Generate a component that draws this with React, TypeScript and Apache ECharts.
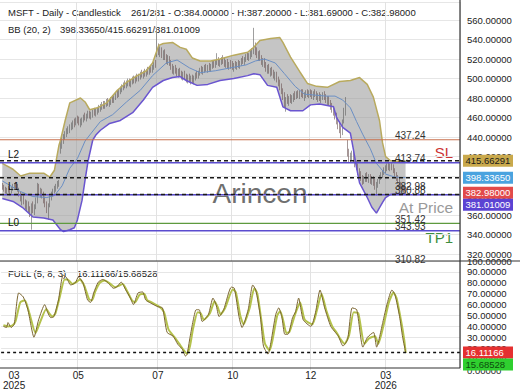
import React, { useEffect, useRef } from 'react';
import * as echarts from 'echarts';

const FONT = '"Liberation Sans", Arial, sans-serif';
const SLOTS = 300;
const FIRST_BAR = 1;

// x-axis ticks (slot index, month, year)
const tickIndex = [8, 50, 102, 151, 202, 251];
const tickText = ['03', '05', '07', '10', '12', '03'];
const tickYear = ['2025', '', '', '', '', '2026'];
const gridLineIndex = [50, 102, 151, 202, 251];

// daily candles [open, high, low, close], first one sits in slot FIRST_BAR
const ohlc: number[][] = [
  [390,393,386,388],[388,391,384,387],[387,389,382,384],[384,388,381,386],[386,390,383,385],[385,388,380,383],[383,389,382,388],[388,392,385,390],[390,393,386,391],[391,394,387,389],
  [389,392,384,386],[386,388,379,381],[381,384,374,376],[376,380,370,378],[378,381,371,373],[373,376,366,368],[368,375,364,372],[372,374,362,365],[365,369,358,361],[358,372,345,369],
  [369,374,362,366],[366,371,360,370],[370,378,366,376],[374,393,372,390],[390,392,381,383],[383,388,378,385],[385,387,377,380],[380,384,372,375],[375,379,368,371],[371,374,362,366],
  [366,372,355,370],[370,380,368,378],[378,384,375,382],[382,387,379,385],[385,390,382,388],[388,392,384,391],[391,395,387,393],[393,396,389,394],[424,437,423,432],[432,440,428,436],
  [436,443,433,441],[441,446,437,444],[444,449,440,447],[447,451,443,449],[449,453,444,451],[451,455,447,452],[452,457,448,455],[455,459,450,454],[454,460,452,458],[458,462,454,457],
  [457,461,452,455],[455,459,450,456],[456,460,452,458],[458,463,455,461],[461,465,457,460],[460,464,456,462],[462,467,459,464],[464,467,459,461],[461,466,458,463],[463,468,460,466],
  [466,470,462,464],[464,469,461,467],[467,471,463,468],[468,473,465,470],[470,474,466,471],[471,476,468,473],[473,477,469,472],[472,477,469,475],[475,479,471,476],[476,480,472,474],
  [474,479,471,477],[477,481,473,479],[479,483,475,478],[478,483,475,481],[481,486,478,484],[484,488,480,483],[483,489,481,487],[487,492,484,490],[490,494,486,491],[491,496,488,494],
  [494,498,490,493],[493,498,490,496],[496,500,492,497],[497,500,492,494],[494,499,491,497],[497,502,494,499],[499,503,495,498],[498,503,495,501],[501,505,497,500],[500,505,497,503],
  [503,507,499,505],[505,509,501,504],[504,508,500,506],[506,510,502,505],[505,510,502,508],[508,512,504,507],[507,512,504,510],[510,514,506,509],[509,514,506,512],[512,517,509,515],
  [515,519,511,513],[528,552,522,530],[530,536,524,527],[527,533,522,529],[529,532,521,524],[524,529,519,526],[526,530,519,521],[521,525,515,519],[519,524,514,520],[520,523,513,515],
  [515,519,509,511],[511,515,505,508],[508,513,504,510],[510,514,505,507],[507,511,502,505],[505,510,501,508],[508,511,502,504],[504,508,499,502],[502,507,498,505],[505,508,499,501],
  [501,505,496,499],[499,504,495,502],[502,505,496,498],[498,503,494,500],[500,504,495,497],[497,503,494,501],[501,506,498,504],[504,508,500,503],[503,508,500,506],[506,511,503,509],
  [509,513,505,507],[507,512,504,510],[510,514,506,511],[511,515,507,509],[509,514,506,512],[512,516,508,510],[510,515,507,513],[513,518,510,515],[515,519,511,514],[514,519,511,517],
  [517,526,514,519],[519,522,513,515],[515,520,512,518],[518,522,514,520],[520,524,515,517],[517,521,512,514],[514,519,511,516],[516,520,510,512],[512,517,509,515],[515,519,510,513],
  [513,518,509,511],[511,516,507,514],[514,518,510,512],[512,517,509,515],[515,519,511,513],[513,518,510,516],[516,521,513,519],[519,523,515,517],[517,522,514,520],[520,525,517,523],
  [523,527,519,521],[521,526,518,524],[524,529,520,526],[526,531,522,528],[528,552,525,533],[533,537,524,527],[527,532,521,523],[523,528,518,525],[525,529,518,520],[520,524,514,516],
  [516,521,512,518],[518,521,511,513],[513,517,507,509],[509,514,505,511],[511,515,505,507],[507,511,502,509],[509,512,503,505],[505,509,500,502],[502,507,498,504],[504,507,496,498],
  [498,502,492,495],[495,499,488,491],[491,495,484,487],[487,490,478,482],[482,486,470,476],[476,481,466,479],[479,484,474,477],[477,482,472,480],[480,484,475,478],[478,483,474,481],
  [481,485,476,483],[483,487,478,482],[482,487,479,485],[485,488,480,483],[483,488,479,486],[486,489,481,484],[484,489,480,482],[482,486,477,484],[484,488,480,486],[486,489,481,483],
  [483,488,480,485],[485,489,481,484],[484,488,479,482],[482,487,478,485],[485,489,481,483],[483,487,478,480],[480,485,476,482],[482,486,477,479],[479,484,475,482],[482,486,478,484],
  [484,487,478,480],[480,484,475,477],[477,482,473,479],[479,482,472,474],[474,478,468,471],[471,475,465,468],[468,472,462,465],[465,469,458,461],[461,465,453,456],[456,460,448,452],
  [452,456,444,447],[447,452,439,445],[445,458,442,456],[456,470,454,467],[467,481,462,476],[432,437,420,424],[424,428,414,418],[418,424,414,421],[421,426,416,423],[423,425,414,417],
  [417,420,409,412],[412,416,406,410],[410,413,401,404],[404,408,398,402],[402,405,395,398],[398,401,391,394],[394,400,392,398],[398,403,394,401],[401,404,394,397],[397,402,393,399],
  [399,402,392,395],[395,400,391,397],[397,400,390,393],[393,397,386,389],[389,394,380,391],[391,397,388,395],[395,401,392,399],[399,404,396,402],[402,406,398,404],[404,409,401,407],
  [407,411,403,409],[409,413,405,411],[411,414,406,409],[409,413,405,411],[411,414,406,410],[410,412,403,405],[405,408,399,401],[401,404,395,397],[397,401,392,394],[394,398,389,391],
  [391,394,386,388],[388,391,384,386],[386,389,383,384],[384,387.2,381.69,382.98],
];

// Bollinger bands (20, 2), read at slot indices: [slot, value]
const bbUpper = [
  [1,413],[8,407],[13,400],[19,403],[28,403],[32,399],[35,406],[38,432],[39,437],[42,457],[45,475],[52,480],[55,476],[58,468],[63,470],[69,475],[76,488],[82,496],[89,503],[95,508],[99,516],[103,534],[106,536],[112,537],[117,532],[121,530],[125,521],[130,518],[137,518],[143,520],[152,524],[161,527],[165,532],[169,539],[176,541],[182,542],[184,537],[189,522],[195,507],[200,495],[206,492],[213,491],[221,497],[228,498],[234,501],[239,494],[243,481],[247,457],[249,434],[251,420],[254,416],[260,415],[264,415.66],
];
const bbLower = [
  [1,377],[8,374],[14,368],[21,358],[28,357],[34,355],[39,345],[41,343],[45,345],[48,347],[50,355],[53,375],[55,396],[57,416],[60,437],[62,442],[65,447],[71,454],[78,457],[86,465],[93,478],[99,491],[106,498],[112,501],[117,502],[121,498],[128,493],[135,494],[143,498],[152,500],[161,503],[165,505],[169,504],[174,493],[180,491],[184,471],[189,467],[197,467],[202,473],[208,474],[217,471],[219,460],[223,450],[228,444],[230,427],[232,409],[234,393],[239,378],[242,368],[245,362],[249,373],[251,378],[254,381],[260,382],[264,381.01],
];
const bbMiddle = [
  [1,395],[13,384],[21,379],[30,378],[35,380],[40,390],[45,408],[50,418],[55,436],[65,456],[73,463],[82,476],[91,488],[99,503],[108,516],[115,519],[123,511],[130,506],[140,508],[150,511],[160,514],[166,518],[172,520],[179,516],[185,505],[192,492],[198,484],[205,483],[212,482],[218,482],[223,478],[228,470],[232,456],[236,443],[241,428],[245,413],[251,402],[257,399],[264,398.34],
];

// Stochastic FULL (5, 8, 3): %K and %D, [slot, value]
const stochK = [
  [1,40],[3,39],[4,43.5],[6,39],[8,41.7],[11,70.7],[14,67],[17,55.3],[21,30],[24,46],[28,60],[30,52.6],[32,48],[34,49],[37,64.3],[40,87],[42,85.3],[45,78],[48,80],[50,85.3],[53,80],[56,64.3],[58,62],[60,70.7],[63,80.6],[66,83],[69,80.6],[73,75],[75,76],[78,80.6],[81,73.4],[84,66],[86,60],[89,70.7],[92,71.6],[94,64.3],[97,61.6],[102,58],[105,57],[108,34.5],[112,31],[115,23.6],[118,19],[120,12.8],[121,14],[123,30],[125,45],[127,55.3],[129,55.3],[131,44.5],[135,50.8],[138,66],[140,60],[142,49],[145,55.3],[150,76],[152,75],[155,49],[157,39],[161,55.3],[164,78],[166,73.4],[169,49],[171,22],[174,14.6],[176,26.4],[179,50.8],[181,57],[183,49],[185,32.7],[187,32.7],[190,48],[192,53.5],[194,66],[197,46],[202,40],[205,52.6],[208,73.4],[211,57],[215,40],[218,34.5],[220,31],[223,22],[226,28],[229,57],[232,55.3],[236,21],[239,30],[243,34.5],[245,21],[249,43.6],[252,61.6],[255,73.4],[257,69],[260,49],[262,30],[264,16.11],
];
const stochD = [
  [1,41],[4,40],[7,41],[9,45],[12,62],[15,64],[18,52],[22,34],[25,44],[29,56],[31,52],[33,49],[35,52],[38,68],[41,83],[43,83],[46,79],[49,81],[51,83],[54,77],[57,65],[59,64],[61,72],[64,80],[67,82],[70,80],[74,76],[76,77],[79,79],[82,72],[85,64],[87,62],[90,69],[93,70],[95,64],[98,62],[103,58],[106,53],[109,37],[113,30],[116,24],[119,18],[121,15],[123,22],[125,38],[128,53],[130,52],[132,46],[136,52],[139,63],[141,58],[143,51],[146,57],[151,74],[153,71],[156,49],[158,42],[162,57],[165,75],[167,70],[170,42],[172,24],[175,18],[177,28],[180,50],[182,54],[184,45],[186,34],[188,35],[191,48],[193,56],[195,62],[198,46],[203,42],[206,55],[209,70],[212,55],[216,40],[219,34],[221,29],[224,24],[227,32],[230,53],[233,52],[237,24],[240,29],[244,31],[246,24],[250,44],[253,62],[256,71],[258,66],[261,45],[263,28],[264,15.69],
];

// horizontal trade levels
const levelValues = [437.24, 413.74, 380.88, 351.42, 343.93, 310.82];
const levelTexts = ['437.24', '413.74', '380.88', '351.42', '343.93', '310.82'];
const levelKinds = ['sl', 'L', 'L', 'tp', 'L', 'tp'];
const levelNames = ['', 'L2', 'L1', '', 'L0', ''];
const entryValue = 382.98;
const entryText = '382.98';

// last values
const bbLast = [415.66291, 398.3365, 381.01009];
const lastClose = 382.98;
const stochLast = [16.11166, 15.68528];
const mainBoxValues = [bbLast[0], bbLast[1], lastClose, bbLast[2]];
const mainBoxTexts = ['415.66291', '398.33650', '382.98000', '381.01009'];
const mainBoxKinds = ['up', 'mid', 'close', 'low'];
const stochBoxTexts = ['16.11166', '15.68528'];

const headerA = 'MSFT - Daily - Candlestick';
const headerB = '261/281 - O:384.00000 - H:387.20000 - L:381.69000 - C:382.98000';
const bbTitle = 'BB (20, 2)';
const bbValuesText = '398.33650/415.66291/381.01009';
const stochTitle = 'FULL (5, 8, 3)';
const stochValuesText = '16.11166/15.68528';

const BOX_STYLE: Record<string, { bg: string; fg: string }> = {
  up: { bg: '#c9a94c', fg: '#1a1a1a' },
  mid: { bg: '#4aa3df', fg: '#ffffff' },
  close: { bg: '#e24a4a', fg: '#ffffff' },
  low: { bg: '#5b43d3', fg: '#ffffff' },
};
const LEVEL_COLOR: Record<string, string> = { sl: '#c8704e', L: '#5b4ccf', tp: '#5e9a3e' };

function buildOption(): any {
  const categories = Array.from({ length: SLOTS }, (_, i) => String(i));
  const candleData = ohlc.map((d, k) => [k + FIRST_BAR, d[0], d[3], d[2], d[1]]);
  const labelStyle = { color: '#222', fontSize: 9.5, fontFamily: FONT };

  const xSplit = {
    show: true,
    interval: (idx: number) => gridLineIndex.indexOf(idx) >= 0,
    lineStyle: { color: '#e2e2e2', width: 1 },
  };

  const levelsRender = (params: any, api: any) => {
    const k = params.dataIndex;
    const cs = params.coordSys;
    const y = api.coord([0, levelValues[k]])[1];
    const children: any[] = [];
    const inside = y >= cs.y && y <= cs.y + cs.height;
    if (inside) {
      const kind = levelKinds[k];
      children.push({
        type: 'line',
        shape: { x1: cs.x, y1: y, x2: cs.x + cs.width, y2: y },
        style: { stroke: LEVEL_COLOR[kind], lineWidth: kind === 'L' ? 1.5 : 1.2 },
      });
    }
    children.push({
      type: 'text', x: 395, y: y + 1,
      style: { text: levelTexts[k], fill: '#333', font: `10px ${FONT}`, verticalAlign: 'bottom', align: 'left' },
    });
    if (levelNames[k]) {
      children.push({
        type: 'text', x: 8, y: y - 3,
        style: { text: levelNames[k], fill: '#111', font: `10px ${FONT}`, verticalAlign: 'bottom', align: 'left' },
      });
    }
    return { type: 'group', children };
  };

  const dashedRender = (params: any, api: any) => {
    const cs = params.coordSys;
    const children: any[] = bbLast.map((v) => {
      const y = api.coord([0, v])[1];
      return {
        type: 'line',
        shape: { x1: cs.x, y1: y, x2: cs.x + cs.width, y2: y },
        style: { stroke: '#1a1a1a', lineWidth: 1.5, lineDash: [4, 3] },
      };
    });
    const ey = api.coord([0, entryValue])[1];
    children.push({
      type: 'text', x: 395, y: ey - 1,
      style: { text: entryText, fill: '#333', font: `10px ${FONT}`, verticalAlign: 'bottom', align: 'left' },
    });
    return { type: 'group', children };
  };

  const boxesRender = (values: number[], texts: string[], styles: { bg: string; fg: string }[]) => (params: any, api: any) => {
    const cs = params.coordSys;
    const x0 = cs.x + cs.width + 3;
    const ys = values.map((v) => api.coord([0, v])[1]);
    const order = ys.map((_, k) => k).sort((a, b) => ys[a] - ys[b]);
    let prev = -Infinity;
    const children: any[] = [];
    order.forEach((k) => {
      const y = Math.max(ys[k], prev + 12);
      prev = y;
      children.push({ type: 'rect', shape: { x: x0, y: y - 6, width: 50, height: 12 }, style: { fill: styles[k].bg } });
      children.push({
        type: 'text', x: x0 + 2.5, y,
        style: { text: texts[k], fill: styles[k].fg, font: `9.5px ${FONT}`, verticalAlign: 'middle', align: 'left' },
      });
    });
    return { type: 'group', children };
  };

  const stochLineRender = (params: any, api: any) => {
    const cs = params.coordSys;
    const y = api.coord([0, stochLast[0]])[1];
    return {
      type: 'line',
      shape: { x1: cs.x, y1: y, x2: cs.x + cs.width, y2: y },
      style: { stroke: '#111', lineWidth: 1.5, lineDash: [3, 3] },
    };
  };

  const text = (x: number, y: number, t: string, font: string, fill: string, align = 'left') => ({
    type: 'text', x, y, silent: true,
    style: { text: t, font, fill, align, verticalAlign: 'middle' },
  });

  return {
    animation: false,
    backgroundColor: '#ffffff',
    grid: [
      { left: 0, right: 60, top: 2, height: 259 },
      { left: 0, right: 60, top: 261, bottom: 19 },
    ],
    xAxis: [
      {
        gridIndex: 0, type: 'category', data: categories, boundaryGap: true,
        axisLine: { show: false }, axisTick: { show: false }, axisLabel: { show: false },
        splitLine: xSplit,
      },
      {
        gridIndex: 1, type: 'category', data: categories, boundaryGap: true, offset: -3,
        axisLine: { show: false }, axisTick: { show: false },
        axisLabel: {
          ...labelStyle, fontSize: 10, margin: 3, lineHeight: 10,
          interval: (idx: number) => tickIndex.indexOf(idx) >= 0,
          formatter: (_: string, idx: number) => {
            const k = tickIndex.indexOf(idx);
            if (k < 0) return '';
            return tickYear[k] ? `${tickText[k]}\n${tickYear[k]}` : tickText[k];
          },
        },
        splitLine: xSplit,
      },
    ],
    yAxis: [
      {
        gridIndex: 0, type: 'value', position: 'right', min: 312.9, max: 578.5,
        minInterval: 20, maxInterval: 20, splitNumber: 13,
        axisLine: { show: false }, axisTick: { show: false },
        axisLabel: { ...labelStyle, margin: 7, showMaxLabel: false, showMinLabel: false, formatter: (v: number) => v.toFixed(5) },
        splitLine: { lineStyle: { color: '#e6e6e6' } },
      },
      {
        gridIndex: 1, type: 'value', position: 'right', min: 0, max: 100, interval: 10,
        axisLine: { show: false }, axisTick: { show: false },
        axisLabel: { ...labelStyle, margin: 7, formatter: (v: number) => v.toFixed(5) },
        splitLine: { showMinLine: false, lineStyle: { color: '#e6e6e6' } },
      },
    ],
    graphic: [
      { type: 'text', x: 260, y: 193, z: -1, silent: true,
        style: { text: 'Arincen', font: `28px ${FONT}`, fill: '#6f6f6f', align: 'center', verticalAlign: 'middle' } },
      text(8, 12.7, headerA, `9.5px ${FONT}`, '#222'),
      text(131, 12.7, headerB, `9.5px ${FONT}`, '#222'),
      text(8, 29.3, bbTitle, `9.5px ${FONT}`, '#222'),
      text(60, 29.3, bbValuesText, `9.5px ${FONT}`, '#222'),
      text(8, 273.3, stochTitle, `9.5px ${FONT}`, '#222'),
      text(77, 273.3, stochValuesText, `9.5px ${FONT}`, '#222'),
      text(453, 152, 'SL', `15px ${FONT}`, '#cc3333', 'right'),
      text(453, 207, 'At Price', `15.5px ${FONT}`, '#9a9a9a', 'right'),
      text(453, 237, 'TP1', `15px ${FONT}`, '#3e8e3e', 'right'),
      { type: 'line', silent: true, z: 10, shape: { x1: 0, y1: 261, x2: 520, y2: 261 }, style: { stroke: '#333', lineWidth: 1.2 } },
      { type: 'line', silent: true, z: 10, shape: { x1: 460, y1: 0, x2: 460, y2: 368 }, style: { stroke: '#333', lineWidth: 1.2 } },
      { type: 'line', silent: true, z: 10, shape: { x1: 0, y1: 368, x2: 460, y2: 368 }, style: { stroke: '#333', lineWidth: 1.2 } },
    ],
    series: [
      {
        type: 'custom', xAxisIndex: 0, yAxisIndex: 0, z: 1, silent: true, clip: true,
        data: [[0, 400]],
        renderItem: (_p: any, api: any) => {
          const pts = bbUpper.map((d) => api.coord(d)).concat(bbLower.slice().reverse().map((d) => api.coord(d)));
          return { type: 'polygon', shape: { points: pts }, style: { fill: 'rgba(150,150,150,0.55)' } };
        },
      },
      {
        type: 'candlestick', xAxisIndex: 0, yAxisIndex: 0, z: 3, silent: true,
        data: candleData, encode: { x: 0, y: [1, 2, 3, 4] }, barWidth: 0.8,
        itemStyle: { color: '#70c8c8', color0: '#e07a7a', borderColor: '#5e5e5e', borderColor0: '#6a5050', borderWidth: 0.6 },
      },
      { type: 'line', xAxisIndex: 0, yAxisIndex: 0, z: 4, data: bbMiddle, showSymbol: false, silent: true,
        lineStyle: { color: '#6b8fc4', width: 1 } },
      { type: 'line', xAxisIndex: 0, yAxisIndex: 0, z: 4, data: bbUpper, showSymbol: false, silent: true,
        lineStyle: { color: '#b9aa5e', width: 1.5 } },
      { type: 'line', xAxisIndex: 0, yAxisIndex: 0, z: 4, data: bbLower, showSymbol: false, silent: true,
        lineStyle: { color: '#6a55d0', width: 1.5 } },
      { type: 'custom', xAxisIndex: 0, yAxisIndex: 0, z: 5, silent: true, clip: false,
        data: levelValues.map((v) => [0, v]), renderItem: levelsRender },
      { type: 'custom', xAxisIndex: 0, yAxisIndex: 0, z: 6, silent: true, clip: false,
        data: [[0, 400]], renderItem: dashedRender },
      { type: 'custom', xAxisIndex: 0, yAxisIndex: 0, z: 7, silent: true, clip: false,
        data: [[0, 400]], renderItem: boxesRender(mainBoxValues, mainBoxTexts, mainBoxKinds.map((k) => BOX_STYLE[k])) },
      { type: 'line', xAxisIndex: 1, yAxisIndex: 1, z: 3, data: stochD, showSymbol: false, silent: true, smooth: 0.2,
        lineStyle: { color: '#b4c24c', width: 2 } },
      { type: 'line', xAxisIndex: 1, yAxisIndex: 1, z: 4, data: stochK, showSymbol: false, silent: true, smooth: 0.2,
        lineStyle: { color: '#7a6530', width: 1 } },
      { type: 'custom', xAxisIndex: 1, yAxisIndex: 1, z: 5, silent: true, clip: false,
        data: [[0, 50]], renderItem: stochLineRender },
      { type: 'custom', xAxisIndex: 1, yAxisIndex: 1, z: 7, silent: true, clip: false,
        data: [[0, 50]], renderItem: boxesRender(stochLast, stochBoxTexts, [{ bg: '#e53030', fg: '#ffffff' }, { bg: '#2fcf2f', fg: '#0d4d0d' }]) },
    ],
  };
}

export default function App() {
  const ref = useRef<HTMLDivElement>(null);
  useEffect(() => {
    document.body.style.margin = '0';
    const chart = echarts.init(ref.current!, undefined, { renderer: 'svg' });
    chart.setOption(buildOption());
    return () => chart.dispose();
  }, []);
  return <div ref={ref} style={{ width: 520, height: 390 }} />;
}
